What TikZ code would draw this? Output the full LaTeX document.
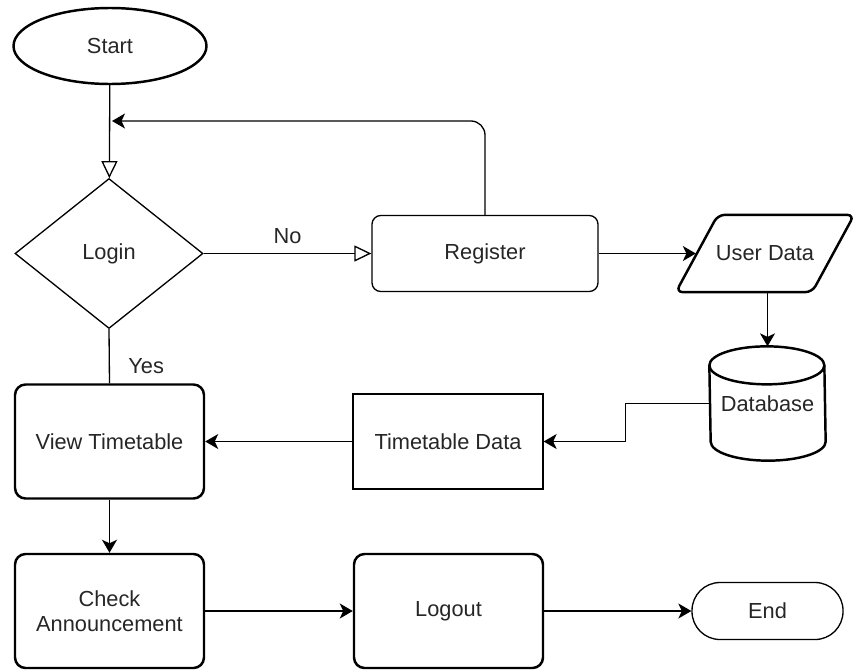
\documentclass[tikz,border=0pt]{standalone}
\usepackage{fontspec}
\setmainfont{Liberation Sans}
\usetikzlibrary{arrows.meta,shapes.geometric}
\begin{document}
\begin{tikzpicture}[font=\fontsize{12.4}{14.2}\selectfont, text=black!85,
 >={Stealth[length=0.26cm,width=0.3cm,inset=0.07cm]},
 line width=0.75pt,
 thin/.style={draw,line width=0.75pt},
 thick/.style={draw,line width=1.4pt},
 proc/.style={rectangle,rounded corners=6pt,minimum width=3.78cm,minimum height=2.28cm,align=center},
 open/.style={-{Triangle[open,length=0.34cm,width=0.32cm]}}]
 \useasboundingbox (0,0) rectangle (17.1,-13.42);
 % nodes
 \node[thick,ellipse,inner sep=0pt,minimum width=3.86cm,minimum height=1.52cm] (start) at (2.2,-0.92) {Start};
 \node[thin,diamond,inner sep=0pt,minimum width=3.76cm,minimum height=3.0cm] (login) at (2.18,-5.07) {Login};
 \node[thin,rectangle,rounded corners=5pt,minimum width=4.52cm,minimum height=1.52cm] (reg) at (9.7,-5.07) {Register};
 \node[minimum width=3.54cm,minimum height=1.52cm,inner sep=0pt] (udata) at (15.3,-5.07) {User Data};
 \draw[line width=1.4pt,rounded corners=4pt] (udata.south west) -- ([xshift=0.84cm]udata.north west)
  -- (udata.north east) -- ([xshift=-0.84cm]udata.south east) -- cycle;
 \node[minimum width=2.3cm,minimum height=2.26cm,inner sep=0pt] (db) at (15.35,-8.07) {Database};
 \draw[line width=1.4pt] ([yshift=-0.38cm]db.north west)
  arc[start angle=180,end angle=0,x radius=1.15cm,y radius=0.38cm]
  -- ([yshift=0.38cm]db.south east)
  arc[start angle=0,end angle=-180,x radius=1.15cm,y radius=0.38cm] -- cycle;
 \draw[line width=1.4pt] ([yshift=-0.38cm]db.north west)
  arc[start angle=180,end angle=360,x radius=1.15cm,y radius=0.38cm];
 \node[thin,rectangle,minimum width=3.8cm,minimum height=1.9cm] (tdata) at (8.96,-8.83) {Timetable Data};
 \node[thick,proc] (view) at (2.19,-8.83) {View Timetable};
 \node[thick,proc] (check) at (2.19,-12.22) {Check\\Announcement};
 \node[thick,proc] (logout) at (8.97,-12.22) {Logout};
 \node[thin,rectangle,rounded corners=0.56cm,minimum width=3.02cm,minimum height=1.14cm] (endn) at (15.35,-12.22) {End};
 \coordinate (loop) at (2.24,-2.42);
 % connectors
 \draw[open] (start) -- (login);
 \draw[->,rounded corners=8pt] (reg.north) |- (loop);
 \draw[open] (login.east) -- node[above=0.06cm] (no) {No} (reg.west);
 \draw[->] (reg.east) -- ([xshift=0.4cm]udata.west);
 \draw[->] (udata.south -| db.north) -- (db.north);
 \draw[->] (db.west) -- ++(-1.68,0) |- (tdata.east);
 \draw[->] (tdata.west) -- (view.east);
 \draw (login.south) -- node[right=0.25cm,pos=0.68] (yes) {Yes} (view.north);
 \draw[->] (view.south) -- (check.north);
 \draw[->] (check.east) -- (logout.west);
 \draw[->] (logout.east) -- (endn.west);
\end{tikzpicture}
\end{document}
